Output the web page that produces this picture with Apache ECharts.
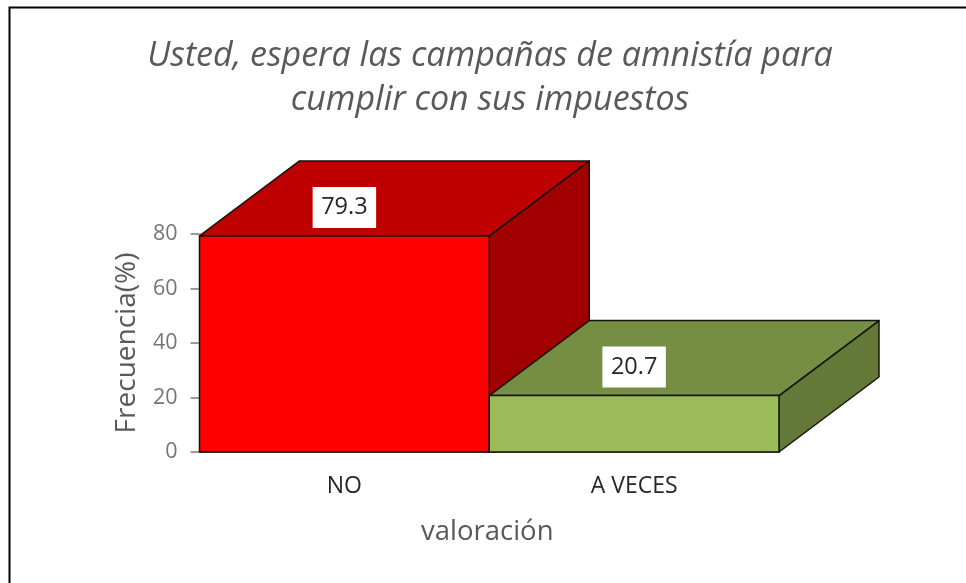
<!DOCTYPE html>
<html><head><meta charset="utf-8">
<style>html,body{margin:0;padding:0;background:#fff}#c{width:966px;height:583px}</style>
<script src="https://cdn.jsdelivr.net/npm/echarts@6/dist/echarts.min.js"></script>
</head><body><div id="c"></div>
<script>
const categories = ['NO', 'A VECES'];
const values = [79.3, 20.7];
const yTicks = [0, 20, 40, 60, 80];
const frontColors = ['#ff0000', '#9bbb59'];
const topColors = ['#bf0000', '#758e43'];
const sideColors = ['#a00000', '#647838'];
const titleLines = ['Usted, espera las campañas de amnistía para', 'cumplir con sus impuestos'];
const FONT = '"Open Sans", sans-serif';
const chart = echarts.init(document.getElementById('c'), null, {renderer: 'canvas'});
const DX = 100, DY = -75;
chart.setOption({
  animation: false,
  backgroundColor: '#fff',
  title: {
    text: titleLines.join('\n'), left: 485, top: 29, textAlign: 'center',
    textStyle: {fontFamily: FONT, fontStyle: 'italic', fontWeight: 'normal', fontSize: 34, lineHeight: 44, color: '#595959'}
  },
  grid: {left: 199.5, right: 187, top: 234, bottom: 131, containLabel: false},
  xAxis: {
    type: 'category', data: categories, boundaryGap: true,
    name: 'valoración', nameLocation: 'middle', nameGap: 66,
    nameTextStyle: {fontFamily: FONT, fontSize: 27.5, color: '#595959', padding: [0, 4, 0, 0]},
    axisLine: {lineStyle: {color: '#6e6e6e', width: 2}}, axisTick: {show: false},
    axisLabel: {fontFamily: FONT, fontSize: 23, color: '#262626', margin: 23}
  },
  yAxis: {
    type: 'value', min: yTicks[0], max: yTicks[yTicks.length - 1], interval: 20,
    name: 'Frecuencia(%)', nameLocation: 'middle', nameGap: 58, nameRotate: 90,
    nameTextStyle: {fontFamily: FONT, fontSize: 28, color: '#595959'},
    splitLine: {show: false},
    axisLine: {show: true, lineStyle: {color: '#b0b0b0', width: 2}},
    axisTick: {show: true, length: 9, lineStyle: {color: '#7a7a7a', width: 1.5}},
    axisLabel: {fontFamily: FONT, fontSize: 21.5, color: '#757575', margin: 22}
  },
  series: [{
    type: 'custom', clip: false,
    data: values.map((v, i) => [i, v]),
    renderItem(params, api) {
      const i = api.value(0), v = api.value(1);
      const w = api.size([1, 0])[0];
      const top = api.coord([i, v]), base = api.coord([i, 0]);
      const x0 = top[0] - w / 2, x1 = top[0] + w / 2, y0 = top[1], y1 = base[1];
      const stroke = {stroke: '#14140a', lineWidth: 1.5, lineJoin: 'round'};
      const poly = (points, fill) => ({type: 'polygon', shape: {points}, style: {fill, ...stroke}});
      return {type: 'group', children: [
        poly([[x1, y0], [x1 + DX, y0 + DY], [x1 + DX, y1 + DY], [x1, y1]], sideColors[i]),
        poly([[x0, y0], [x0 + DX, y0 + DY], [x1 + DX, y0 + DY], [x1, y0]], topColors[i]),
        poly([[x0, y0], [x1, y0], [x1, y1], [x0, y1]], frontColors[i]),
        {type: 'text', x: top[0], y: y0 - 28.5, style: {
          text: v.toFixed(1), align: 'center', verticalAlign: 'middle', fontFamily: FONT, fontSize: 23.5, lineHeight: 25,
          fill: '#262626', backgroundColor: '#fff', padding: [8, 8.5, 8, 8.5]
        }}
      ]};
    }
  }],
  graphic: [{type: 'polyline', shape: {points: [[9.5, 583], [9.5, 7.5], [966, 7.5]]}, style: {stroke: '#000', lineWidth: 2, fill: 'none'}}]
});
</script></body></html>
